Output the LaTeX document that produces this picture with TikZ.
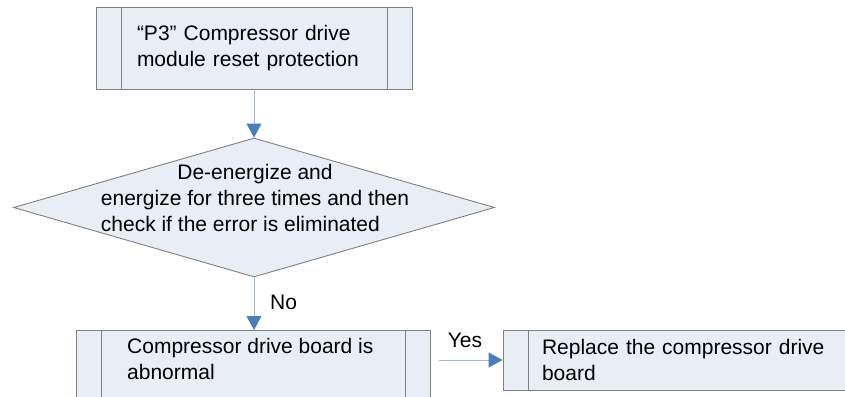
\documentclass[tikz,border=0pt]{standalone}
\usepackage{fontspec}
\setmainfont{Liberation Sans}
\usetikzlibrary{shapes.geometric,arrows.meta}
\definecolor{boxfill}{HTML}{E9EDF5}
\definecolor{boxline}{HTML}{808080}
\definecolor{linec}{HTML}{A3B8D8}
\definecolor{arrowc}{HTML}{4A7EBB}
\newcommand{\fs}{\fontsize{21}{26}\selectfont}
\tikzset{
  procbox/.style={draw=boxline, fill=boxfill, line width=0.9pt, rectangle, inner ysep=0pt, align=left, font=\fs,
    path picture={\draw[boxline, line width=0.9pt]
      ([xshift=25pt]path picture bounding box.north west) -- ([xshift=25pt]path picture bounding box.south west)
      ([xshift=-25pt]path picture bounding box.north east) -- ([xshift=-25pt]path picture bounding box.south east);}},
  decbox/.style={draw=boxline, fill=boxfill, line width=0.9pt, diamond, inner sep=0pt},
  txt/.style={font=\fs, inner sep=0pt},
  conn/.style={draw=linec, line width=1pt, -{Triangle[color=arrowc, length=14pt, width=15pt]}},
}
\begin{document}
\begin{tikzpicture}[x=1pt, y=-1pt]
\useasboundingbox (0,0) rectangle (845,396);
\clip (0,0) rectangle (845,396);
% box 1
\node[procbox, minimum width=316pt, minimum height=82pt, inner xsep=41pt, text width=234pt] (b1) at (254,48)
  {“P3” Compressor drive\\module reset protection};
% decision
\node[decbox, minimum width=481pt, minimum height=139pt] (d) at (254,207.5) {};
\node[txt] (dt) at (255,200) {\begin{tabular}{@{}l@{}}\multicolumn{1}{@{}c@{}}{De-energize and}\\ energize for three times and then\\ check if the error is eliminated\end{tabular}};
% box 3
\node[procbox, minimum width=354pt, minimum height=90pt, anchor=north west] (b3) at (76,330) {};
\node[txt, anchor=west, align=left] (t3) at (127,358.5) {Compressor drive board is\\abnormal};
% box 4
\node[procbox, minimum width=368pt, minimum height=60pt, inner xsep=39pt, text width=290pt] (b4) at (687,360)
  {Replace the compressor drive\\board};
% connectors
\draw[conn] (b1.south) -- (d.north);
\draw[conn] (d.south) -- (d.south |- b3.north);
\draw[conn, shorten <=8pt] (b3.east |- b4.west) -- (b4.west);
\node[txt, anchor=west] (no) at (270,302) {No};
\node[txt] (yes) at (465,340) {Yes};
\end{tikzpicture}
\end{document}
